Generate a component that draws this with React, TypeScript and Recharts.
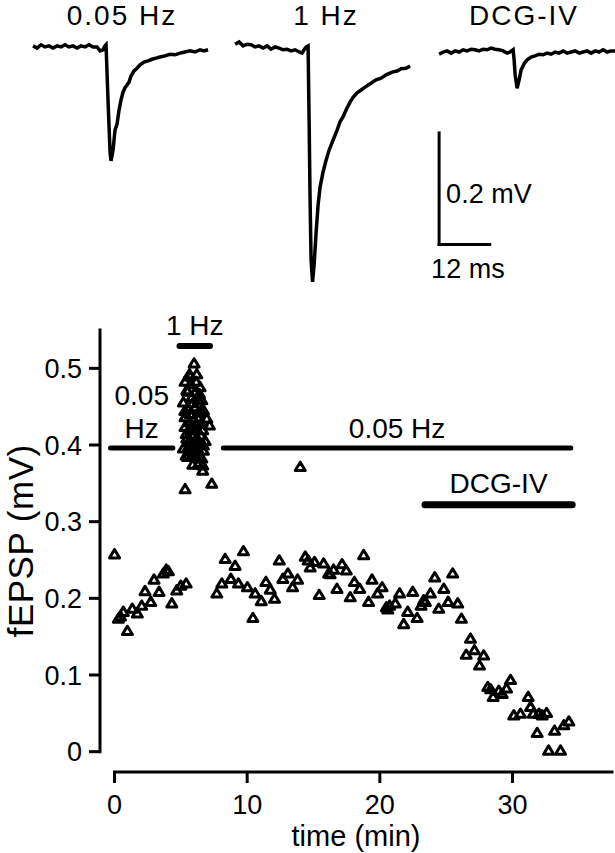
import React from 'react'
import { LineChart, Line, ScatterChart, Scatter, XAxis, YAxis, ReferenceLine } from 'recharts'

const FONT = '"Liberation Sans", Arial, Helvetica, sans-serif'
const TICK_FS = 27
const NOTE_FS = 28

// ---------- example fEPSP traces (time in ms from trace start, voltage in mV) ----------
const traceTitles = ['0.05 Hz', '1 Hz', 'DCG-IV']

const trace1Time = [0, 0.95, 1.9, 2.84, 3.79, 4.74, 5.69, 6.64, 7.58, 8.53, 9.48, 10.43, 11.37, 12.32, 13.27, 14.22, 15.17, 15.88, 16.59, 17.06, 17.3, 17.77, 18.25, 18.48, 18.96, 19.43, 19.91, 20.38, 20.85, 21.33, 21.8, 22.27, 22.75, 23.22, 23.93, 24.64, 25.36, 26.3, 27.25, 28.2, 29.15, 30.09, 31.28, 32.46, 33.65, 34.83, 36.02, 37.2, 38.39, 39.57, 40.52, 41.47]
const trace1Value = [0.002, -0.002, 0.004, 0, 0.002, -0.002, 0.002, 0, 0.004, 0, 0.002, -0.002, 0.002, 0, 0.004, 0, 0, -0.007, -0.005, 0.002, 0.004, -0.095, -0.188, -0.204, -0.185, -0.149, -0.138, -0.113, -0.095, -0.081, -0.073, -0.068, -0.063, -0.052, -0.043, -0.038, -0.032, -0.027, -0.025, -0.022, -0.02, -0.018, -0.016, -0.013, -0.014, -0.011, -0.009, -0.007, -0.009, -0.005, -0.007, -0.005]

const trace2Time = [0, 0.95, 1.9, 2.84, 3.79, 4.74, 5.69, 6.64, 7.58, 8.53, 9.48, 10.43, 11.37, 12.32, 13.27, 14.22, 15.17, 15.88, 16.35, 16.82, 17.3, 17.54, 17.77, 18.01, 18.36, 18.72, 19.19, 19.67, 20.14, 20.85, 21.56, 22.27, 23.22, 24.17, 24.88, 25.59, 26.54, 27.25, 27.96, 28.91, 29.86, 30.81, 31.99, 33.41, 34.6, 35.78, 37.2, 38.39, 39.34, 40.52, 41.47]
const trace2Value = [0.005, 0.009, 0.002, 0.005, 0.004, 0, 0.002, -0.002, 0.002, -0.004, 0, -0.002, -0.005, -0.004, -0.007, -0.005, -0.009, -0.011, -0.005, 0, 0.002, -0.131, -0.274, -0.382, -0.421, -0.391, -0.333, -0.283, -0.251, -0.224, -0.203, -0.185, -0.167, -0.149, -0.134, -0.125, -0.109, -0.099, -0.09, -0.082, -0.077, -0.072, -0.066, -0.059, -0.056, -0.05, -0.045, -0.043, -0.039, -0.038, -0.034]

const trace3Time = [0, 0.95, 1.9, 2.84, 3.79, 4.74, 5.69, 6.64, 7.58, 8.53, 9.48, 10.43, 11.37, 12.32, 13.27, 14.22, 15.17, 16.11, 16.82, 17.54, 17.77, 18.01, 18.48, 18.96, 19.43, 20.14, 20.85, 21.8, 22.75, 23.7, 24.64, 25.59, 26.54, 27.49, 28.44, 29.38, 30.33, 31.28, 32.23, 33.18, 34.12, 35.07, 36.02, 36.97, 37.91, 38.86, 39.81, 40.76, 41.71]
const trace3Value = [-0.013, -0.009, -0.007, -0.011, -0.007, -0.009, -0.005, -0.007, -0.004, -0.005, -0.007, -0.004, -0.005, -0.002, -0.004, -0.005, -0.007, -0.011, -0.009, -0.005, -0.023, -0.05, -0.074, -0.059, -0.041, -0.03, -0.023, -0.018, -0.016, -0.013, -0.014, -0.011, -0.013, -0.009, -0.011, -0.007, -0.011, -0.009, -0.007, -0.011, -0.009, -0.007, -0.011, -0.007, -0.009, -0.005, -0.009, -0.007, -0.007]

// where each trace starts on the shared ms axis
const traceOffsetMs = [7.82, 55.69, 104.03]
const scaleBarMs = 12
const scaleBarMv = 0.2

// ---------- fEPSP amplitude vs time (min, mV) ----------
const pre005Time = [0, 0.29, 0.45, 0.66, 0.97, 1.34, 1.72, 2.05, 2.3, 2.73, 2.98, 3.36, 3.68, 3.9, 4.06, 4.32, 4.69, 5.0, 5.4]
const pre005Value = [0.258, 0.174, 0.177, 0.183, 0.158, 0.187, 0.181, 0.191, 0.21, 0.196, 0.225, 0.209, 0.233, 0.238, 0.236, 0.194, 0.211, 0.217, 0.22]

const burst1HzTime = [6.0, 5.65, 6.2, 5.32, 6.15, 5.45, 5.83, 6.58, 5.19, 6.7, 5.7, 6.33, 7.15, 5.32, 6.65, 5.95, 5.45, 6.83, 6.2, 5.19, 6.7, 5.4, 6.08, 6.58, 6.65, 6.65, 5.32, 7.33, 5.75, 6.45, 5.57, 6.08, 6.4, 5.75, 6.2, 6.5, 5.57, 5.95, 6.33, 5.32, 6.96, 5.83, 6.33, 5.5, 5.9, 6.3, 6.6, 5.3, 5.7, 6.1, 6.5, 5.4, 5.8, 6.2, 6.7, 5.6, 6.0, 6.4, 5.5, 5.9, 6.3, 6.1, 5.7]
const burst1HzValue = [0.507, 0.493, 0.493, 0.483, 0.483, 0.472, 0.463, 0.459, 0.456, 0.446, 0.441, 0.435, 0.426, 0.424, 0.42, 0.413, 0.409, 0.406, 0.4, 0.396, 0.393, 0.387, 0.389, 0.383, 0.374, 0.367, 0.343, 0.35, 0.48, 0.476, 0.448, 0.45, 0.467, 0.424, 0.428, 0.413, 0.398, 0.402, 0.443, 0.437, 0.435, 0.387, 0.393, 0.47, 0.455, 0.46, 0.43, 0.445, 0.43, 0.42, 0.445, 0.415, 0.42, 0.41, 0.4, 0.405, 0.395, 0.385, 0.385, 0.375, 0.375, 0.47, 0.49]

const post005Time = [7.71, 8.09, 8.34, 8.77, 9.09, 9.34, 9.72, 10.02, 10.43, 10.6, 11.06, 11.41, 11.74, 12.06, 12.42, 12.69, 13.07, 13.42, 13.8, 14.0, 14.38, 14.75, 15.08, 15.43, 15.76, 16.14, 16.51, 16.77, 17.15, 17.47, 17.77, 18.08, 18.48, 18.78, 19.15, 19.41, 19.83, 20.17, 20.49, 20.74, 21.17, 21.49, 21.8, 22.1, 22.48, 22.81, 23.11, 23.43, 23.81, 24.14, 24.44, 24.82, 25.15, 25.49, 25.87, 26.15, 26.51, 26.83, 27.13, 27.51, 27.83, 28.14, 28.54, 28.97, 29.22, 29.55, 29.85, 30.1, 30.6, 31.18, 31.36, 31.56, 31.86, 32.24, 32.57, 32.72, 33.17, 33.62, 33.87, 34.25, 14.6, 16.25, 20.6, 23.3, 28.35, 32.0]
const post005Value = [0.207, 0.22, 0.252, 0.226, 0.243, 0.22, 0.262, 0.215, 0.175, 0.207, 0.197, 0.222, 0.212, 0.2, 0.25, 0.226, 0.233, 0.215, 0.225, 0.372, 0.255, 0.241, 0.248, 0.205, 0.246, 0.233, 0.238, 0.213, 0.245, 0.237, 0.202, 0.222, 0.213, 0.257, 0.196, 0.225, 0.207, 0.215, 0.189, 0.191, 0.194, 0.207, 0.167, 0.183, 0.209, 0.175, 0.191, 0.196, 0.207, 0.228, 0.187, 0.213, 0.196, 0.233, 0.194, 0.174, 0.127, 0.148, 0.133, 0.113, 0.126, 0.085, 0.072, 0.08, 0.076, 0.083, 0.094, 0.048, 0.05, 0.072, 0.059, 0.05, 0.025, 0.048, 0.051, 0.002, 0.028, 0.002, 0.035, 0.04, 0.25, 0.232, 0.186, 0.198, 0.082, 0.05]

const xTicks = [0, 10, 20, 30]
const yTicks = [0, 0.1, 0.2, 0.3, 0.4, 0.5]

// protocol bars (min, mV)
const barLabels = [['0.05', 'Hz'], ['1 Hz'], ['0.05 Hz'], ['DCG-IV']]
const barStart = [-0.3, 4.9, 8.2, 23.4]
const barEnd = [4.4, 7.2, 34.4, 34.5]
const barLevel = [0.396, 0.529, 0.396, 0.322]
const barWidth = [5, 6, 5, 7]

const X_MIN = -1.094
const X_MAX = 37.5
const Y_MIN = -0.0265
const Y_TOP = 0.55

const zip = (ts: number[], vs: number[], off = 0) => ts.map((t, i) => ({ t: t + off, v: vs[i] }))

const traces = [
  zip(trace1Time, trace1Value, traceOffsetMs[0]),
  zip(trace2Time, trace2Value, traceOffsetMs[1]),
  zip(trace3Time, trace3Value, traceOffsetMs[2]),
]

const points = [
  ...zip(pre005Time, pre005Value),
  ...zip(burst1HzTime, burst1HzValue),
  ...zip(post005Time, post005Value),
]

const Triangle = (props: any) => {
  const { cx, cy } = props
  if (cx == null || cy == null) return null
  const d = `M${cx},${cy - 4.3} L${cx - 5},${cy + 4} L${cx + 5},${cy + 4} Z`
  return <path d={d} fill="none" stroke="#000" strokeWidth={3} strokeLinejoin="round" />
}

const BarLabel = (props: any) => {
  const { viewBox, lines, gap } = props
  if (!viewBox) return null
  const cx = viewBox.x + viewBox.width / 2
  const base = viewBox.y - gap
  return (
    <text x={cx} y={base} textAnchor="middle" fontSize={NOTE_FS} fontFamily={FONT} fill="#000">
      {lines.map((l: string, i: number) => (
        <tspan key={i} x={cx} y={base - (lines.length - 1 - i) * 33}>{l}</tspan>
      ))}
    </text>
  )
}

const OffsetLabel = (props: any) => {
  const { viewBox, text, dx, dy } = props
  if (!viewBox) return null
  return (
    <text x={viewBox.x + dx} y={viewBox.y + dy} fontSize={27} fontFamily={FONT} fill="#000">{text}</text>
  )
}

const YTitle = (props: any) => {
  const { viewBox } = props
  if (!viewBox) return null
  const frac = (Y_TOP - Y_TOP / 2) / (Y_TOP - Y_MIN)
  const cy = viewBox.y + viewBox.height * frac
  return (
    <text transform={`translate(33, ${cy}) rotate(-90)`} textAnchor="middle" fontSize={35} letterSpacing={0.5} fontFamily={FONT} fill="#000">
      fEPSP (mV)
    </text>
  )
}

const XTitle = (props: any) => {
  const { viewBox } = props
  if (!viewBox) return null
  return (
    <text x={viewBox.x + viewBox.width / 2} y={viewBox.y + 74} textAnchor="middle" fontSize={29} fontFamily={FONT} fill="#000">
      time (min)
    </text>
  )
}

export default function App() {
  const titleX = [122, 326, 524]
  return (
    <div style={{ position: 'absolute', left: 0, top: 0, width: 615, height: 853, background: '#fff', fontFamily: FONT }}>
      {/* example traces */}
      <div style={{ position: 'absolute', left: 0, top: 0 }}>
        <LineChart width={615} height={290} margin={{ top: 0, right: 0, bottom: 0, left: 0 }}>
          <XAxis type="number" dataKey="t" domain={[0, 145.7]} hide allowDataOverflow />
          <YAxis type="number" domain={[-0.4355, 0.0842]} hide allowDataOverflow />
          {traces.map((tr, i) => (
            <Line
              key={i}
              data={tr}
              dataKey="v"
              type="linear"
              stroke="#000"
              strokeWidth={3.5}
              dot={false}
              isAnimationActive={false}
            />
          ))}
          <ReferenceLine
            segment={[{ x: traceOffsetMs[2], y: -0.154 }, { x: traceOffsetMs[2], y: -0.154 - scaleBarMv }]}
            stroke="#000"
            strokeWidth={3}
            strokeLinecap="square"
            ifOverflow="visible"
            label={<OffsetLabel text="0.2 mV" dx={7} dy={70} />}
          />
          <ReferenceLine
            segment={[{ x: traceOffsetMs[2], y: -0.154 - scaleBarMv }, { x: traceOffsetMs[2] + scaleBarMs, y: -0.154 - scaleBarMv }]}
            stroke="#000"
            strokeWidth={3}
            strokeLinecap="square"
            ifOverflow="visible"
            label={<OffsetLabel text="12 ms" dx={-8} dy={33} />}
          />
        </LineChart>
      </div>
      <svg width={615} height={40} style={{ position: 'absolute', left: 0, top: 0 }}>
        {traceTitles.map((t, i) => (
          <text key={t} x={titleX[i]} y={25} textAnchor="middle" fontSize={28} letterSpacing={2} fontFamily={FONT} fill="#000">{t}</text>
        ))}
      </svg>

      {/* fEPSP time course */}
      <div style={{ position: 'absolute', left: 0, top: 300 }}>
        <ScatterChart width={615} height={553} margin={{ top: 30, right: 3, bottom: 0, left: 0 }}>
          <XAxis
            type="number"
            dataKey="t"
            domain={[X_MIN, X_MAX]}
            ticks={xTicks}
            interval={0}
            allowDataOverflow
            height={81}
            axisLine={false}
            tickLine={{ stroke: '#000', strokeWidth: 3 }}
            tickSize={11}
            tickMargin={12}
            tick={{ fill: '#000', fontSize: TICK_FS, fontFamily: FONT }}
            label={<XTitle />}
          />
          <YAxis
            type="number"
            dataKey="v"
            domain={[Y_MIN, Y_TOP]}
            ticks={yTicks}
            interval={0}
            allowDataOverflow
            width={100}
            axisLine={false}
            tickLine={{ stroke: '#000', strokeWidth: 3 }}
            tickSize={11}
            tickMargin={7}
            tick={{ fill: '#000', fontSize: TICK_FS, fontFamily: FONT }}
            tickFormatter={(v: number) => String(v)}
            label={<YTitle />}
          />
          <ReferenceLine
            segment={[{ x: X_MIN, y: 0 }, { x: X_MIN, y: Y_TOP }]}
            stroke="#000"
            strokeWidth={3}
            strokeLinecap="square"
            ifOverflow="visible"
          />
          <ReferenceLine
            segment={[{ x: 0, y: Y_MIN }, { x: X_MAX, y: Y_MIN }]}
            stroke="#000"
            strokeWidth={3}
            strokeLinecap="square"
            ifOverflow="visible"
          />
          {barLabels.map((lines, i) => (
            <ReferenceLine
              key={i}
              segment={[{ x: barStart[i], y: barLevel[i] }, { x: barEnd[i], y: barLevel[i] }]}
              stroke="#000"
              strokeWidth={barWidth[i]}
              strokeLinecap="round"
              ifOverflow="visible"
              label={<BarLabel lines={lines} gap={8 + barWidth[i] / 2} />}
            />
          ))}
          <Scatter data={points} shape={<Triangle />} isAnimationActive={false} />
        </ScatterChart>
      </div>
    </div>
  )
}
